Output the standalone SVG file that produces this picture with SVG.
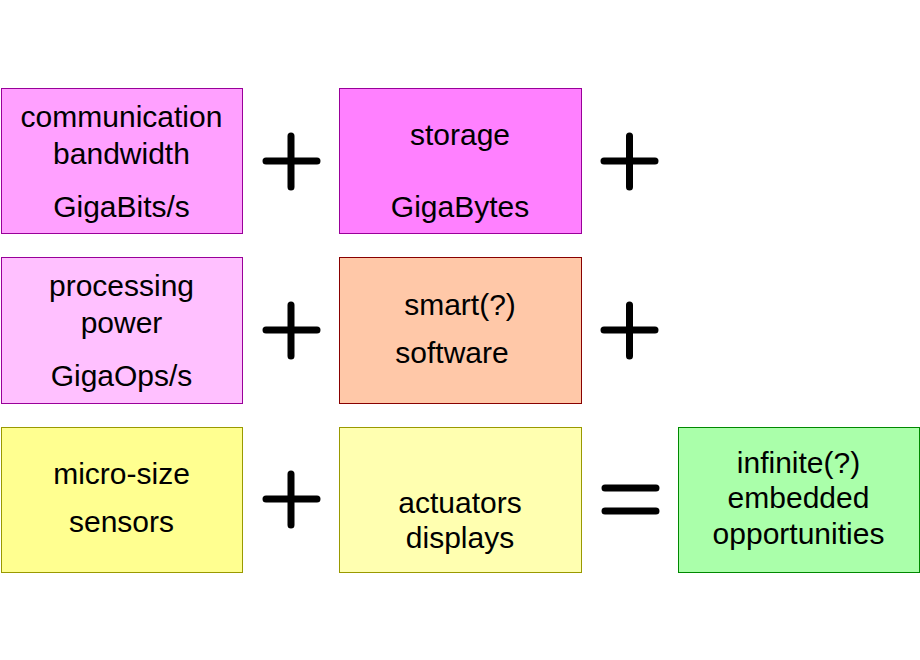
<svg xmlns="http://www.w3.org/2000/svg" width="920" height="660" viewBox="0 0 920 660">
<style>
.t{font-family:"Liberation Sans",Arial,sans-serif;font-size:30px;fill:#000;text-anchor:middle}
.op{stroke:#000;stroke-width:7;stroke-linecap:round;fill:none}
</style>
<rect width="920" height="660" fill="#fff"/>
<g id="comm"><rect x="1.5" y="88.5" width="241" height="145" fill="#FFA0FF" stroke="#990099"/>
<text class="t" x="121.5" y="127">communication</text><text class="t" x="121.5" y="164">bandwidth</text><text class="t" x="121.5" y="217">GigaBits/s</text></g>
<g id="storage"><rect x="339.5" y="88.5" width="242" height="145" fill="#FF80FF" stroke="#990099"/>
<text class="t" x="460" y="145">storage</text><text class="t" x="460" y="217">GigaBytes</text></g>
<g id="proc"><rect x="1.5" y="257.5" width="241" height="146" fill="#FFC0FF" stroke="#990099"/>
<text class="t" x="121.5" y="296">processing</text><text class="t" x="121.5" y="333">power</text><text class="t" x="121.5" y="386">GigaOps/s</text></g>
<g id="software"><rect x="339.5" y="257.5" width="242" height="146" fill="#FFC8A8" stroke="#880000"/>
<text class="t" x="460" y="315">smart(?)</text><text class="t" x="452" y="363">software</text></g>
<g id="sensors"><rect x="1.5" y="427.5" width="241" height="145" fill="#FFFF90" stroke="#999900"/>
<text class="t" x="121.5" y="484">micro-size</text><text class="t" x="121.5" y="532">sensors</text></g>
<g id="actuators"><rect x="339.5" y="427.5" width="242" height="145" fill="#FFFFB0" stroke="#999900"/>
<text class="t" x="460" y="513">actuators</text><text class="t" x="460" y="548">displays</text></g>
<g id="result"><rect x="678.5" y="427.5" width="241" height="145" fill="#AAFFAA" stroke="#008800"/>
<text class="t" x="798.5" y="473">infinite(?)</text><text class="t" x="798.5" y="508">embedded</text><text class="t" x="798.5" y="544">opportunities</text></g>
<g id="operators">
<path class="op" d="M266 161H317M291 136V187"/>
<path class="op" d="M604 161H655M629.5 136V187"/>
<path class="op" d="M266 330H317M291 305V356"/>
<path class="op" d="M604 330H655M629.5 305V356"/>
<path class="op" d="M266 499H317M291 474V525"/>
<path class="op" d="M605 488H656M605 511H656"/>
</g>
</svg>
